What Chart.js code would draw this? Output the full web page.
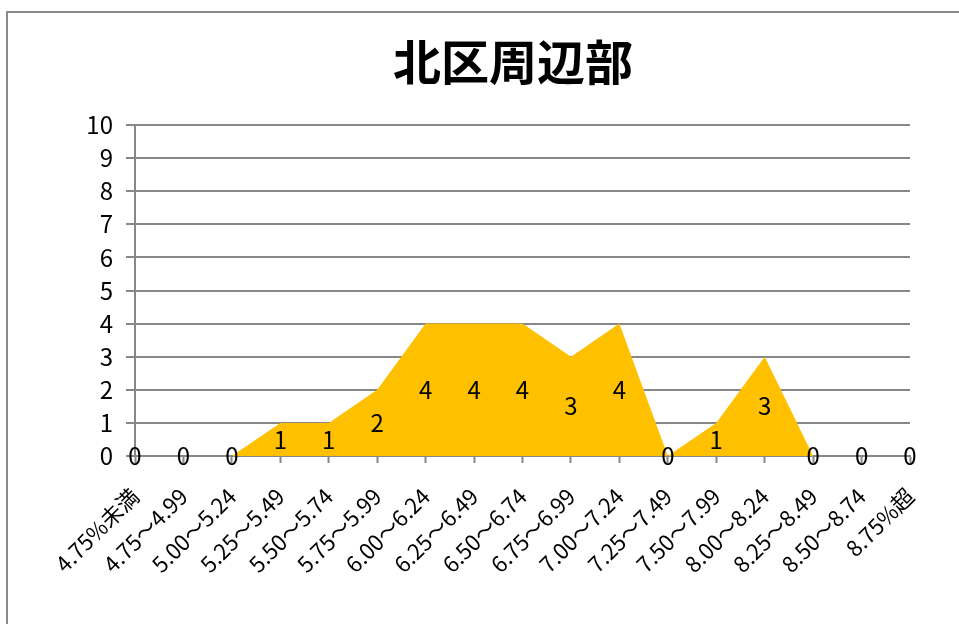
<!DOCTYPE html>
<html lang="ja">
<head>
<meta charset="utf-8">
<title>北区周辺部</title>
<script src="https://cdn.jsdelivr.net/npm/chart.js@4.4.1/dist/chart.umd.min.js"></script>
<style>
    html, body { margin: 0; padding: 0; background: #fff; overflow: hidden; }
    #chartBox { position: relative; width: 959px; height: 624px; }
</style>
</head>
<body>
<div id="chartBox"><canvas id="rateChart" width="959" height="624"></canvas></div>
<script>
    // 利回り帯ごとの件数
    const rateBands = ['4.75%未満', '4.75～4.99', '5.00～5.24', '5.25～5.49', '5.50～5.74', '5.75～5.99',
        '6.00～6.24', '6.25～6.49', '6.50～6.74', '6.75～6.99', '7.00～7.24', '7.25～7.49',
        '7.50～7.99', '8.00～8.24', '8.25～8.49', '8.50～8.74', '8.75%超'];
    const counts = [0, 0, 0, 1, 1, 2, 4, 4, 4, 3, 4, 0, 1, 3, 0, 0, 0];
    const yTicks = [0, 1, 2, 3, 4, 5, 6, 7, 8, 9, 10];

    const chartTitle = '北区周辺部';
    const fontFamily = '"Noto Sans CJK JP", "Noto Sans", sans-serif';
    const gridColor = '#878787';

    // 外枠とタイトル
    const framePlugin = {
        id: 'frame',
        beforeDraw(chart) {
            const ctx = chart.ctx;
            ctx.save();
            ctx.strokeStyle = '#8a8a8a';
            ctx.lineWidth = 2;
            ctx.strokeRect(7, 12, chart.width + 20, chart.height + 20);
            ctx.fillStyle = '#000';
            ctx.font = 'bold 48px ' + fontFamily;
            ctx.textAlign = 'center';
            ctx.textBaseline = 'middle';
            ctx.fillText(chartTitle, 513, 62);
            ctx.restore();
        }
    };

    // 面の中央に件数を表示
    const valueLabels = {
        id: 'valueLabels',
        afterDatasetsDraw(chart) {
            const ctx = chart.ctx;
            const xs = chart.scales.x;
            const ys = chart.scales.y;
            ctx.save();
            ctx.fillStyle = '#000';
            ctx.font = '24px ' + fontFamily;
            ctx.textAlign = 'center';
            ctx.textBaseline = 'middle';
            counts.forEach((v, i) => {
                ctx.fillText(String(v), xs.getPixelForValue(i), ys.getPixelForValue(v / 2));
            });
            ctx.restore();
        }
    };

    const ctx = document.getElementById('rateChart').getContext('2d');
    new Chart(ctx, {
        type: 'line',
        data: {
            labels: rateBands,
            datasets: [{
                data: counts,
                fill: 'origin',
                backgroundColor: '#FFC000',
                borderWidth: 0,
                pointRadius: 0,
                tension: 0
            }]
        },
        options: {
            responsive: false,
            animation: false,
            layout: { padding: { top: 125, right: 49, left: 0, bottom: 0 } },
            plugins: {
                legend: { display: false },
                tooltip: { enabled: false }
            },
            scales: {
                x: {
                    offset: false,
                    grid: {
                        drawOnChartArea: false,
                        drawTicks: true,
                        tickLength: 7,
                        tickWidth: 2,
                        tickColor: gridColor
                    },
                    border: { color: gridColor, width: 2 },
                    ticks: {
                        autoSkip: false,
                        minRotation: 45,
                        maxRotation: 45,
                        padding: 20,
                        color: '#000',
                        font: { family: fontFamily, size: 22 }
                    },
                    afterFit(scale) { scale.height = 624 - 456; }
                },
                y: {
                    min: 0,
                    max: 10,
                    afterBuildTicks(scale) { scale.ticks = yTicks.map(v => ({ value: v })); },
                    grid: {
                        color: gridColor,
                        lineWidth: 2,
                        tickLength: 9
                    },
                    border: { color: gridColor, width: 2 },
                    ticks: {
                        padding: 13,
                        color: '#000',
                        font: { family: fontFamily, size: 24 }
                    },
                    afterFit(scale) { scale.width = 135; }
                }
            }
        },
        plugins: [framePlugin, valueLabels]
    });
</script>
</body>
</html>
